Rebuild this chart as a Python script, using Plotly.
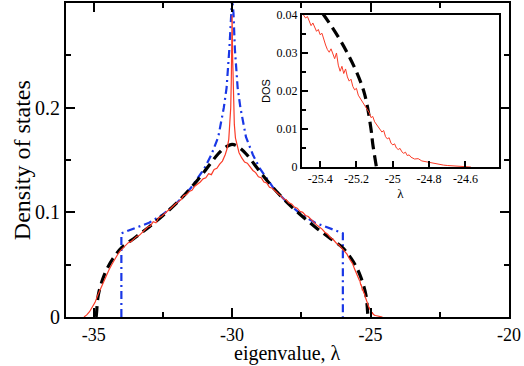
import plotly.graph_objects as go

# ---------------- data ----------------
red_x = [-35.35, -35.25, -35.15, -35.05, -34.95, -34.85, -34.75, -34.65, -34.55, -34.45,
         -34.35, -34.25, -34.15, -34.05, -33.95, -33.85, -33.75, -33.65, -33.55, -33.45,
         -33.35, -33.25, -33.15, -33.05, -32.95, -32.85, -32.75, -32.65, -32.55, -32.45,
         -32.35, -32.25, -32.15, -32.05, -31.95, -31.85, -31.75, -31.65, -31.55, -31.45,
         -31.35, -31.25, -31.15, -31.05, -30.95, -30.85, -30.75, -30.65, -30.55, -30.45,
         -30.35, -30.25, -30.18, -30.12, -30.08, -30.05, -30.03, -30.015, -30.0,
         -29.985, -29.97, -29.95, -29.92, -29.88, -29.82, -29.75, -29.65, -29.55, -29.45,
         -29.35, -29.25, -29.15, -29.05, -28.95, -28.85, -28.75, -28.65, -28.55, -28.45,
         -28.35, -28.25, -28.15, -28.05, -27.95, -27.85, -27.75, -27.65, -27.55, -27.45,
         -27.35, -27.25, -27.15, -27.05, -26.95, -26.85, -26.75, -26.65, -26.55, -26.45,
         -26.35, -26.25, -26.15, -26.05, -25.95, -25.85, -25.75, -25.65, -25.58,
         -25.50, -25.49, -25.48, -25.47, -25.46, -25.45, -25.44, -25.43, -25.42, -25.41,
         -25.40, -25.39, -25.38, -25.37, -25.36, -25.35, -25.34, -25.33, -25.32, -25.31,
         -25.30, -25.29, -25.28, -25.27, -25.26, -25.25, -25.24, -25.23, -25.22, -25.21,
         -25.20, -25.19, -25.18, -25.17, -25.16, -25.15, -25.14, -25.13, -25.12, -25.11,
         -25.10, -25.09, -25.08, -25.07, -25.06, -25.05, -25.04, -25.03, -25.02, -25.01,
         -25.00, -24.99, -24.98, -24.97, -24.96, -24.95, -24.94, -24.93, -24.92, -24.91,
         -24.90, -24.88, -24.86, -24.84, -24.82, -24.80, -24.78, -24.76, -24.74, -24.72,
         -24.70, -24.67, -24.64, -24.60, -24.57]
red_y = [0.000, 0.002, 0.005, 0.009, 0.014, 0.021, 0.027, 0.034, 0.040, 0.045,
         0.050, 0.055, 0.059, 0.063, 0.066, 0.068, 0.071, 0.072, 0.075, 0.077,
         0.078, 0.081, 0.083, 0.086, 0.087, 0.091, 0.090, 0.095, 0.096, 0.099,
         0.101, 0.103, 0.106, 0.108, 0.110, 0.112, 0.116, 0.117, 0.120, 0.121,
         0.125, 0.127, 0.129, 0.132, 0.133, 0.137, 0.136, 0.141, 0.142, 0.146,
         0.149, 0.155, 0.161, 0.170, 0.183, 0.200, 0.225, 0.255, 0.288,
         0.252, 0.228, 0.198, 0.184, 0.171, 0.163, 0.157, 0.152, 0.148, 0.147,
         0.143, 0.140, 0.138, 0.134, 0.133, 0.129, 0.128, 0.124, 0.123, 0.120,
         0.118, 0.116, 0.113, 0.112, 0.109, 0.108, 0.105, 0.104, 0.101, 0.100,
         0.097, 0.096, 0.093, 0.091, 0.088, 0.086, 0.084, 0.081, 0.079, 0.076,
         0.074, 0.071, 0.069, 0.066, 0.063, 0.060, 0.055, 0.051, 0.046,
         0.0408, 0.0400, 0.0392, 0.0396, 0.0381, 0.0372, 0.0379, 0.0368, 0.0357, 0.0362,
         0.0348, 0.0352, 0.0334, 0.0321, 0.0309, 0.0302, 0.0311, 0.0296, 0.0285, 0.0300,
         0.0268, 0.0252, 0.0265, 0.0246, 0.0258, 0.0237, 0.0226, 0.0231, 0.0212, 0.0203,
         0.0207, 0.0189, 0.0181, 0.0176, 0.0166, 0.0158, 0.0149, 0.0143, 0.0130, 0.0133,
         0.0119, 0.0113, 0.0104, 0.0099, 0.0092, 0.0096, 0.0080, 0.0074, 0.0077, 0.0063,
         0.0058, 0.0061, 0.0050, 0.0046, 0.0049, 0.0040, 0.0036, 0.0039, 0.0030, 0.0032,
         0.0026, 0.0021, 0.0022, 0.0016, 0.0014, 0.0013, 0.0009, 0.0008, 0.0006, 0.0005,
         0.0004, 0.0003, 0.0002, 0.0001, 0.0000]

black_x = [-34.91, -34.89, -34.88, -34.84, -34.75, -34.62, -34.5, -34.3, -34.0, -33.5,
           -33.0, -32.5, -32.0, -31.5, -31.0, -30.5, -30.25, -30.0,
           -29.75, -29.5, -29.0, -28.5, -28.0, -27.5, -27.0, -26.5, -26.0, -25.7,
           -25.5, -25.38, -25.25, -25.16, -25.12, -25.11, -25.09]
black_y = [0.0, 0.006, 0.010, 0.020, 0.030, 0.040, 0.047, 0.056, 0.066, 0.076,
           0.086, 0.097, 0.109, 0.123, 0.139, 0.156, 0.162, 0.165,
           0.162, 0.156, 0.139, 0.123, 0.109, 0.097, 0.086, 0.076, 0.066, 0.056,
           0.047, 0.040, 0.030, 0.020, 0.010, 0.006, 0.0]

blue_x = [-34.0, -34.0, -33.5, -33.0, -32.5, -32.0, -31.5, -31.0, -30.75, -30.5,
          -30.3, -30.2, -30.1, -30.05, -30.0, -29.95, -29.9, -29.8, -29.7, -29.5,
          -29.25, -29.0, -28.5, -28.0, -27.5, -27.0, -26.5, -26.0, -26.0]
blue_y = [0.0, 0.080, 0.085, 0.090, 0.098, 0.109, 0.123, 0.142, 0.155, 0.172,
          0.200, 0.219, 0.256, 0.290, 0.305, 0.290, 0.256, 0.219, 0.200, 0.172,
          0.155, 0.142, 0.123, 0.109, 0.098, 0.090, 0.085, 0.080, 0.0]

main_xticks = [-35, -30, -25, -20]
main_xticklabels = ["-35", "-30", "-25", "-20"]
main_yticks = [0, 0.1, 0.2]
main_yticklabels = ["0", "0.1", "0.2"]
inset_xticks = [-25.4, -25.2, -25.0, -24.8, -24.6]
inset_xticklabels = ["-25.4", "-25.2", "-25", "-24.8", "-24.6"]
inset_yticks = [0, 0.01, 0.02, 0.03, 0.04]
inset_yticklabels = ["0", "0.01", "0.02", "0.03", "0.04"]

RED = "rgb(250,60,40)"
BLUE = "rgb(25,55,230)"
SERIF = "Liberation Serif"

fig = go.Figure()

# main panel
fig.add_trace(go.Scatter(x=blue_x, y=blue_y, mode="lines",
                         line=dict(color=BLUE, width=2.2, dash="8px,4px,2px,4px"),
                         showlegend=False, xaxis="x", yaxis="y"))
fig.add_trace(go.Scatter(x=black_x, y=black_y, mode="lines", line_shape="spline",
                         line=dict(color="black", width=3.2, dash="11px,6px"),
                         showlegend=False, xaxis="x", yaxis="y"))
fig.add_trace(go.Scatter(x=red_x, y=red_y, mode="lines",
                         line=dict(color=RED, width=1.2),
                         showlegend=False, xaxis="x", yaxis="y"))

# inset
fig.add_trace(go.Scatter(x=black_x, y=black_y, mode="lines", line_shape="spline",
                         line=dict(color="black", width=3.2, dash="11px,6px"),
                         showlegend=False, xaxis="x2", yaxis="y2"))
fig.add_trace(go.Scatter(x=red_x, y=red_y, mode="lines",
                         line=dict(color=RED, width=1),
                         showlegend=False, xaxis="x2", yaxis="y2"))

axis_common = dict(showline=True, linecolor="black", linewidth=2, ticks="inside",
                   tickcolor="black", tickwidth=2, showgrid=False, zeroline=False,
                   automargin=False)

fig.update_layout(
    width=524, height=366,
    margin=dict(l=66, r=15, t=3, b=49),
    paper_bgcolor="white", plot_bgcolor="white",
    font=dict(family=SERIF, color="black"),
    xaxis=dict(domain=[0, 1], range=[-36, -19.999], tickmode="array",
               tickvals=main_xticks, ticktext=main_xticklabels, ticklen=9,
               mirror="allticks", tickfont=dict(size=18, family=SERIF),
               minor=dict(tickvals=[-32.5, -27.5, -22.5], ticks="inside", ticklen=5,
                          tickwidth=2, tickcolor="black"),
               anchor="y", **axis_common),
    yaxis=dict(domain=[0, 1], range=[0, 0.3], tickmode="array",
               tickvals=main_yticks, ticktext=main_yticklabels, ticklen=9,
               mirror="allticks", tickfont=dict(size=20, family=SERIF),
               minor=dict(tickvals=[0.05, 0.15, 0.25], ticks="inside", ticklen=5,
                          tickwidth=2, tickcolor="black"),
               anchor="x", **axis_common),
    xaxis2=dict(domain=[0.5327, 0.9774], range=[-25.5, -24.415], tickmode="array",
                tickvals=inset_xticks, ticktext=inset_xticklabels, ticklen=6,
                mirror=True, tickfont=dict(size=12, family=SERIF),
                title=dict(text="λ", font=dict(size=13, family=SERIF), standoff=2),
                anchor="y2", **axis_common),
    yaxis2=dict(domain=[0.4777, 0.9618], range=[0, 0.04], tickmode="array",
                tickvals=inset_yticks, ticktext=inset_yticklabels, ticklen=6,
                mirror=True, tickfont=dict(size=12, family=SERIF),
                minor=dict(tickvals=[0.005, 0.015, 0.025, 0.035], ticks="inside", ticklen=4,
                           tickwidth=2, tickcolor="black"),
                title=dict(text="DOS", font=dict(size=11, family="Liberation Sans"), standoff=4),
                anchor="x2", **axis_common),
    annotations=[
        dict(text="eigenvalue, λ", xref="paper", yref="paper", x=0.5, y=-0.1162,
             xanchor="center", yanchor="middle", showarrow=False,
             font=dict(size=20, family=SERIF, color="black")),
        dict(text="Density of states", xref="paper", yref="paper", x=-0.099, y=0.5,
             xanchor="center", yanchor="middle", textangle=-90, showarrow=False,
             font=dict(size=24, family=SERIF, color="black")),
    ],
)

fig.write_html("out.html", config={"displayModeBar": False},
               post_script="document.body.style.margin='0';")
